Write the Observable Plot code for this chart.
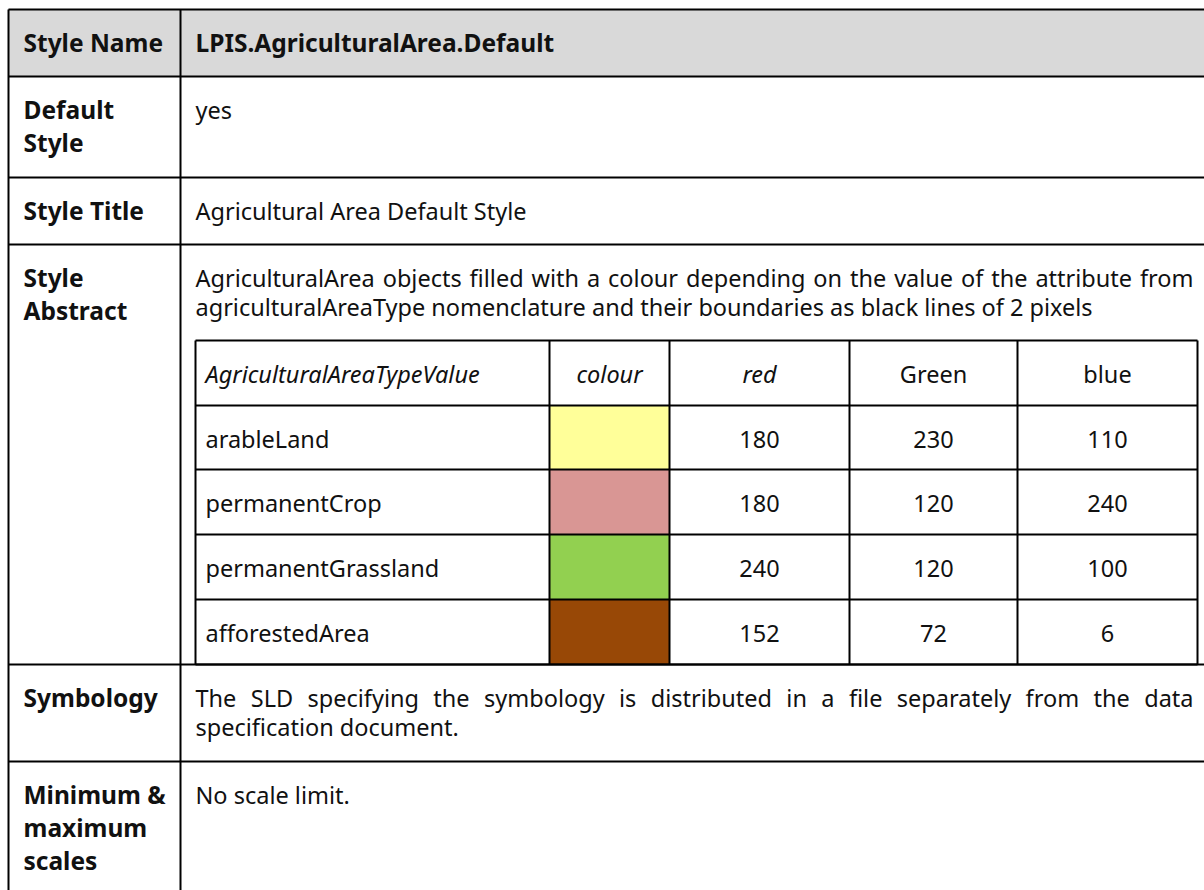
<!DOCTYPE html>
<html><head><meta charset="utf-8">
<script src="https://cdn.jsdelivr.net/npm/d3@7"></script>
<script src="https://cdn.jsdelivr.net/npm/@observablehq/plot@0.6"></script>
<style>html,body{margin:0;padding:0;background:#fff}</style>
</head><body><div id="chart"></div>
<script>
// ---------- data ----------
const rowLabels = [["Style Name"], ["Default", "Style"], ["Style Title"], ["Style", "Abstract"], ["Symbology"], ["Minimum &", "maximum", "scales"]];
const rowValues = [
  ["LPIS.AgriculturalArea.Default"],
  ["yes"],
  ["Agricultural Area Default Style"],
  ["AgriculturalArea objects filled with a colour depending on the value of the attribute from",
   "agriculturalAreaType nomenclature and their boundaries as black lines of 2 pixels"],
  ["The SLD specifying the symbology is distributed in a file separately from the data",
   "specification document."],
  ["No scale limit."]
];
const justifiedLines = [rowValues[3][0], rowValues[4][0]];
const typeHeaders = ["AgriculturalAreaTypeValue", "colour", "red", "Green", "blue"];
const headerItalic = [true, true, true, false, false];
const typeValues = ["arableLand", "permanentCrop", "permanentGrassland", "afforestedArea"];
const swatchColours = ["#FFFF99", "#D99694", "#92D050", "#984806"];
const redValues = [180, 180, 240, 152];
const greenValues = [230, 120, 120, 72];
const blueValues = [110, 240, 100, 6];

// ---------- layout ----------
const W = 1204, H = 890;
const outerCols = [8, 180, W];
const outerRows = [9, 76, 177, 244, 664, 761, H];
const innerCols = [195, 549, 669, 849, 1017, 1197];
const innerRows = [340, 405, 469, 534, 599, 664];
const fs = 23.5, fsBold = 24.5, lhBold = 33, lhBody = 29, baseOff = 42, padL = 15, padInner = 10, textRight = 1193;
const FONT = "Noto Sans";
const INK = "#111";
const topY = (rowTop, size = fs) => rowTop + baseOff - 0.71 * size;

// label text lines (left column)
const labelLines = rowLabels.flatMap((lines, i) => lines.map((t, j) => ({x: outerCols[0] + padL, y: topY(outerRows[i], fsBold) + j * lhBold, text: t})));
// value text lines (right column)
const valueLines = rowValues.flatMap((lines, i) => lines.map((t, j) => ({x: innerCols[0], y: topY(outerRows[i], i === 0 ? fsBold : fs) + j * lhBody, text: t, bold: i === 0})));

// inner table text
const innerHeaderCells = typeHeaders.map((t, k) => ({
  x: k === 0 ? innerCols[0] + padInner : (innerCols[k] + innerCols[k + 1]) / 2,
  y: topY(innerRows[0]), text: t, italic: headerItalic[k], anchor: k === 0 ? "start" : "middle"
}));
const innerNameCells = typeValues.map((t, i) => ({x: innerCols[0] + padInner, y: topY(innerRows[i + 1]), text: t}));
const numberCells = typeValues.flatMap((t, i) => [redValues[i], greenValues[i], blueValues[i]].map((v, k) => ({
  x: (innerCols[k + 2] + innerCols[k + 3]) / 2, y: topY(innerRows[i + 1]), text: String(v)
})));
const swatches = typeValues.map((t, i) => ({x1: innerCols[1], x2: innerCols[2], y1: innerRows[i + 1], y2: innerRows[i + 2], fill: swatchColours[i]}));

// grid lines
const segs = [];
outerRows.slice(0, -1).forEach(y => segs.push({x1: outerCols[0], x2: W, y1: y, y2: y}));
outerCols.slice(0, 2).forEach(x => segs.push({x1: x, x2: x, y1: outerRows[0], y2: H}));
innerRows.forEach(y => segs.push({x1: innerCols[0], x2: innerCols[innerCols.length - 1], y1: y, y2: y}));
innerCols.forEach(x => segs.push({x1: x, x2: x, y1: innerRows[0], y2: innerRows[innerRows.length - 1]}));

const textBase = {fontFamily: FONT, fontSize: fs, fill: INK, lineAnchor: "top"};
const boldBase = {...textBase, fontSize: fsBold, fontWeight: "bold"};

const chart = Plot.plot({
  width: W, height: H, margin: 0,
  x: {domain: [0, W], range: [0, W], axis: null},
  y: {domain: [0, H], range: [0, H], axis: null},
  color: {type: "identity"},
  style: {background: "white", fontFamily: FONT},
  marks: [
    Plot.rect([{x1: outerCols[0], x2: W, y1: outerRows[0], y2: outerRows[1]}], {x1: "x1", x2: "x2", y1: "y1", y2: "y2", fill: "#D9D9D9"}),
    Plot.rect(swatches, {x1: "x1", x2: "x2", y1: "y1", y2: "y2", fill: "fill"}),
    Plot.link(segs, {x1: "x1", x2: "x2", y1: "y1", y2: "y2", stroke: "black", strokeWidth: 2}),
    Plot.text(labelLines, {...boldBase, x: "x", y: "y", text: "text", textAnchor: "start"}),
    Plot.text(valueLines.filter(d => d.bold), {...boldBase, x: "x", y: "y", text: "text", textAnchor: "start"}),
    Plot.text(valueLines.filter(d => !d.bold), {...textBase, x: "x", y: "y", text: "text", textAnchor: "start"}),
    Plot.text(innerHeaderCells.filter(d => d.italic && d.anchor === "start"), {...textBase, x: "x", y: "y", text: "text", textAnchor: "start", fontStyle: "italic"}),
    Plot.text(innerHeaderCells.filter(d => d.italic && d.anchor === "middle"), {...textBase, x: "x", y: "y", text: "text", textAnchor: "middle", fontStyle: "italic"}),
    Plot.text(innerHeaderCells.filter(d => !d.italic), {...textBase, x: "x", y: "y", text: "text", textAnchor: "middle"}),
    Plot.text(innerNameCells, {...textBase, x: "x", y: "y", text: "text", textAnchor: "start"}),
    Plot.text(numberCells, {...textBase, x: "x", y: "y", text: "text", textAnchor: "middle"})
  ]
});
document.getElementById("chart").appendChild(chart);

// justify the full lines of wrapped paragraphs
const target = textRight - innerCols[0];
chart.querySelectorAll("text").forEach(t => {
  if (justifiedLines.includes(t.textContent)) {
    const n = (t.textContent.match(/ /g) || []).length;
    const len = t.getComputedTextLength();
    if (n > 0) t.style.wordSpacing = ((target - len) / n) + "px";
  }
});
</script>
</body></html>
